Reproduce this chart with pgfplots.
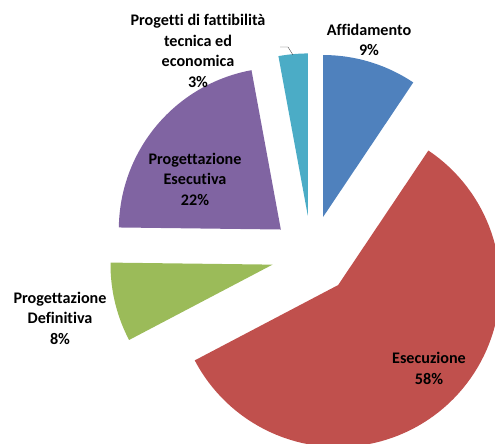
\documentclass[border=0pt]{standalone}
\usepackage{pgfplots}
\pgfplotsset{compat=1.18}
\usepackage{fontspec}
\setmainfont{Carlito}[Ligatures={NoCommon}]
\definecolor{cAff}{HTML}{4F81BD}
\definecolor{cEse}{HTML}{C0504D}
\definecolor{cDef}{HTML}{9BBB59}
\definecolor{cEsc}{HTML}{8064A2}
\definecolor{cPro}{HTML}{4BACC6}
% shares of the pie (percent), clockwise from 12 o'clock
\def\pAff{9.4}
\def\pEse{57.9}
\def\pDef{7.9}
\def\pEsc{21.9}
\def\pPro{2.9}
\def\CX{311.4}\def\CY{188.7}\def\R{162}\def\D{40}
\newcommand{\slice}[3]{% #1 cumulative before, #2 share, #3 colour
  \pgfmathsetmacro\sa{90-3.6*(#1)}%
  \pgfmathsetmacro\ea{90-3.6*((#1)+(#2))}%
  \pgfmathsetmacro\md{(\sa+\ea)/2}%
  \pgfmathsetmacro\cx{\CX+\D*cos(\md)}%
  \pgfmathsetmacro\cy{\CY+\D*sin(\md)}%
  \edef\temp{\noexpand\addplot[fill=#3, draw=none, domain=\ea:\sa, samples=90, variable=\noexpand\t]
    ({\cx+\R*cos(\noexpand\t)},{\cy+\R*sin(\noexpand\t)}) -- (axis cs:\cx,\cy) -- cycle;}%
  \temp
}
\begin{document}
\begin{tikzpicture}
\begin{axis}[hide axis, scale only axis, width=495bp, height=444bp,
  xmin=0, xmax=495, ymin=0, ymax=444, clip=true]
\slice{0}{\pAff}{cAff}
\slice{\pAff}{\pEse}{cEse}
\slice{\pAff+\pEse}{\pDef}{cDef}
\slice{\pAff+\pEse+\pDef}{\pEsc}{cEsc}
\slice{\pAff+\pEse+\pDef+\pEsc}{\pPro}{cPro}
\addplot[black!70, thin] coordinates {(280,397) (288,397) (293,389)};
\tikzset{lab/.style={align=center, font=\bfseries\fontsize{16.2}{20.5}\selectfont, text=black, inner sep=0pt}}
\node[lab] at (axis cs:198,393) {Progetti di fattibilità\\tecnica ed\\economica\\3\%};
\node[lab] at (axis cs:369,404) {Affidamento\\9\%};
\node[lab] at (axis cs:195,265) {Progettazione\\Esecutiva\\22\%};
\node[lab] at (axis cs:60,126) {Progettazione\\Definitiva\\8\%};
\node[lab] at (axis cs:429,75.5) {Esecuzione\\58\%};
\end{axis}
\pgfresetboundingbox
\path (current axis.south west) rectangle (current axis.north east);
\end{tikzpicture}
\end{document}
